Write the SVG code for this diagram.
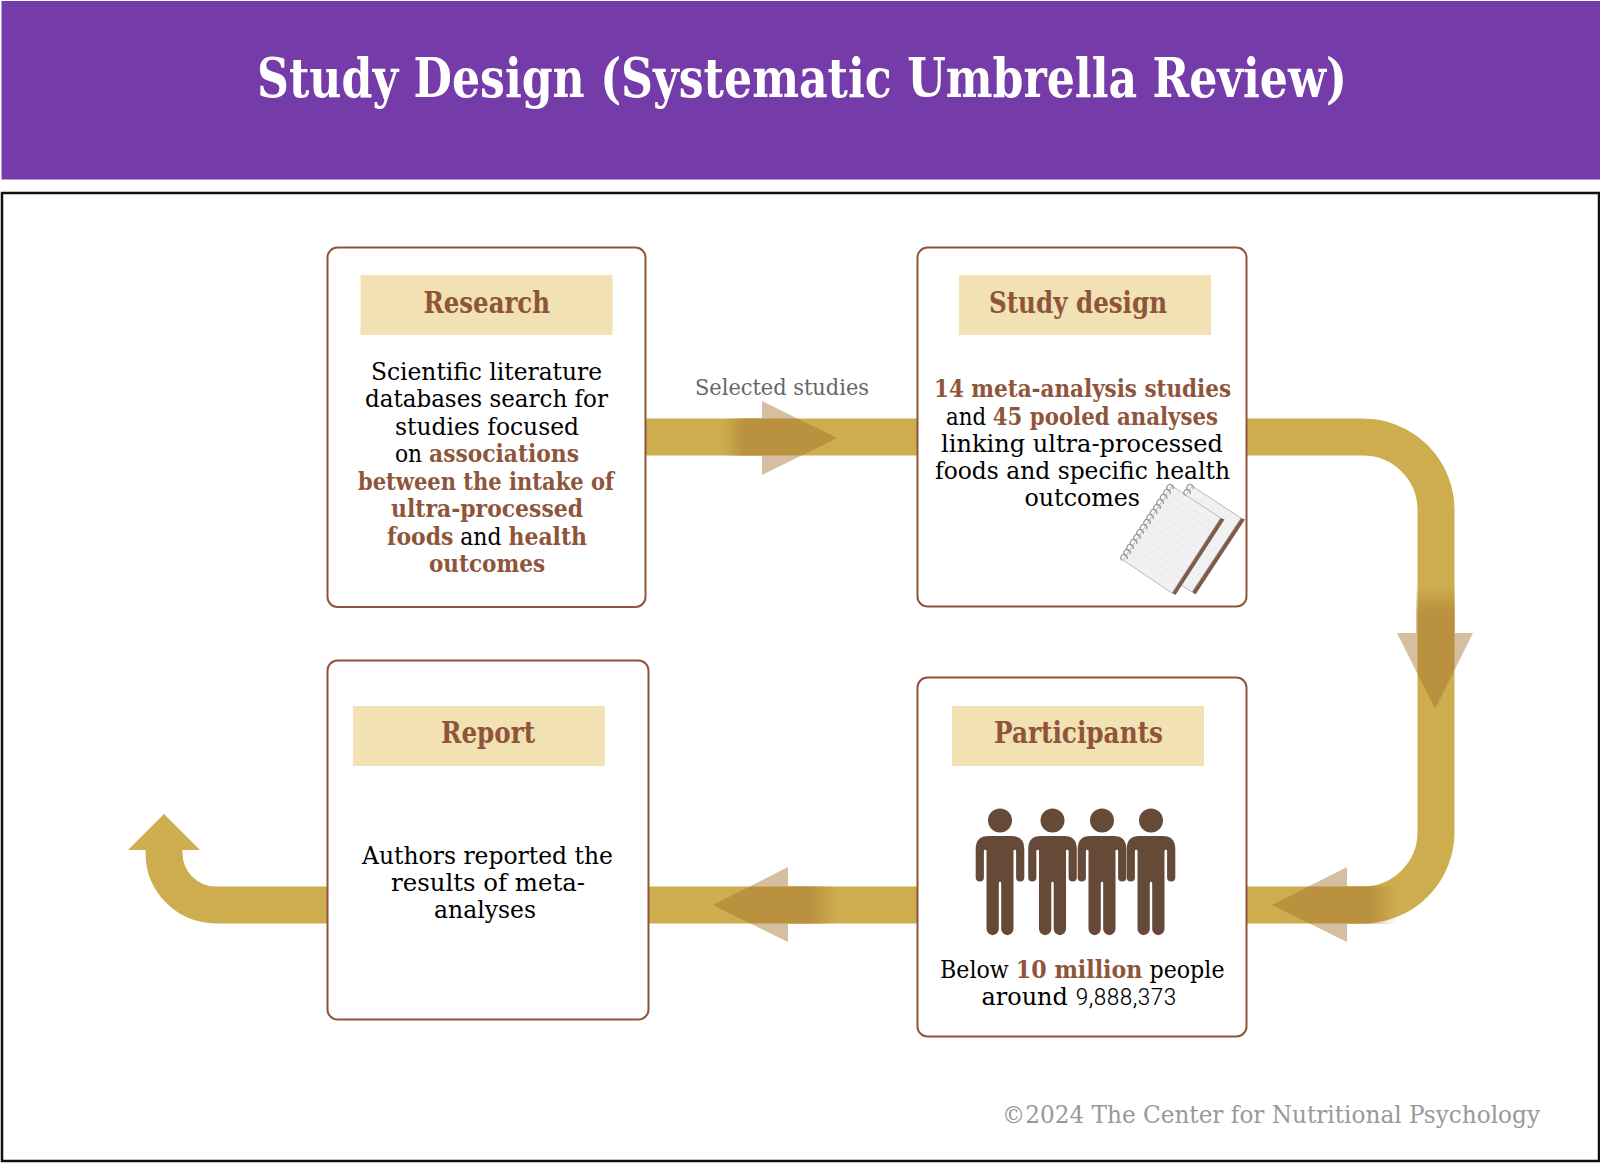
<svg xmlns="http://www.w3.org/2000/svg" width="1600" height="1163" viewBox="0 0 1600 1163">
<style>
text{font-family:"DejaVu Serif Condensed","DejaVu Serif",serif;font-stretch:condensed}
.t{font-size:24.5px;fill:#000}
.b{font-weight:bold;fill:#8f553b}
.h{font-size:30px;font-weight:bold;fill:#8f553b}
.box{fill:#fff;stroke:#8f553b;stroke-width:2}
.lab{fill:#f1e1b3}
.band{fill:none;stroke:#cdad4e;stroke-width:37}
.head{fill:#a46f2c;fill-opacity:.45}
.p{fill:#664a38}
.rule{stroke:#dedee4;stroke-width:.5}
.edge{fill:#7d5c4b}
.page{fill:#f1f1f4;stroke:#a89a94;stroke-width:.7}
.coil{fill:none;stroke:#999;stroke-width:1.3}
</style>
<defs>
<linearGradient id="gr" x1="0" x2="1" y1="0" y2="0"><stop offset="0" stop-color="#a46f2c" stop-opacity="0"/><stop offset=".55" stop-color="#a46f2c" stop-opacity=".45"/></linearGradient>
<linearGradient id="gl" x1="1" x2="0" y1="0" y2="0"><stop offset="0" stop-color="#a46f2c" stop-opacity="0"/><stop offset=".55" stop-color="#a46f2c" stop-opacity=".45"/></linearGradient>
<linearGradient id="gd" x1="0" x2="0" y1="0" y2="1"><stop offset="0" stop-color="#a46f2c" stop-opacity="0"/><stop offset=".55" stop-color="#a46f2c" stop-opacity=".45"/></linearGradient>
<path id="man" d="M-11.5 836H11.500Q24.300 836 24.300 849V877.500a4.100 4.100 0 0 1-8.200 0V851a1.300 1.300 0 0 0-2.600 0V929a6.150 6.150 0 0 1-12.300 0V883a1.200 1.200 0 0 0-2.400 0V929a6.150 6.150 0 0 1-12.300 0V851a1.300 1.300 0 0 0-2.600 0V877.500a4.100 4.100 0 0 1-8.200 0V849Q-24.300 836-11.500 836Z"/>
<g id="coils"><path class="coil" d="M0 0a3.200 3.200 0 1 0-4.500 1.500"/></g>
</defs>
<rect width="1600" height="1163" fill="#fff"/>
<g id="header">
<rect x="1.500" y="1" width="1598.500" height="178.500" fill="#743ba9"/>
<text x="257" y="97" font-size="54" font-weight="bold" fill="#fff" textLength="1090" lengthAdjust="spacingAndGlyphs">Study Design (Systematic Umbrella Review)</text>
</g>
<rect id="frame" x="2" y="193" width="1597" height="968" fill="none" stroke="#111" stroke-width="2.500"/>
<g id="connectors">
<path class="band" d="M646 437H917"/>
<path class="band" d="M1246 437H1363A73 73 0 0 1 1436 510V832A73 73 0 0 1 1363 905H1246"/>
<path class="band" d="M917 905H649"/>
<path class="band" d="M327 905H216A52 52 0 0 1 164 853V848"/>
<path d="M128 850L164 814L200 850Z" fill="#cdad4e"/>
<rect x="722" y="418" width="40" height="38" fill="url(#gr)"/>
<path class="head" d="M762 401L837 438L762 475Z"/>
<rect x="1416" y="586" width="39" height="47" fill="url(#gd)"/>
<path class="head" d="M1397 633H1473L1435 709Z"/>
<rect x="1347" y="886" width="50" height="38" fill="url(#gl)"/>
<path class="head" d="M1347 867L1272 905L1347 942Z"/>
<rect x="788" y="886" width="49" height="38" fill="url(#gl)"/>
<path class="head" d="M788 867L713 905L788 942Z"/>
<text x="695" y="395" font-size="23" fill="#666" textLength="174" lengthAdjust="spacingAndGlyphs">Selected studies</text>
</g>
<g id="node-research">
<rect class="box" x="327.500" y="247.500" width="318" height="359.500" rx="10"/>
<rect class="lab" x="360.500" y="275" width="252" height="60"/>
<text class="h" x="423.500" y="313" textLength="126.500" lengthAdjust="spacingAndGlyphs">Research</text>
<text class="t" x="371" y="380" textLength="231" lengthAdjust="spacingAndGlyphs">Scientific literature</text>
<text class="t" x="365" y="407" textLength="243" lengthAdjust="spacingAndGlyphs">databases search for</text>
<text class="t" x="395" y="434.500" textLength="184" lengthAdjust="spacingAndGlyphs">studies focused</text>
<text class="t" x="395" y="462" textLength="184" lengthAdjust="spacingAndGlyphs">on <tspan class="b">associations</tspan></text>
<text class="t b" x="358" y="489.500" textLength="256" lengthAdjust="spacingAndGlyphs">between the intake of</text>
<text class="t b" x="391" y="517" textLength="192" lengthAdjust="spacingAndGlyphs">ultra-processed</text>
<text class="t" x="387" y="544.500" textLength="200" lengthAdjust="spacingAndGlyphs"><tspan class="b">foods</tspan> and <tspan class="b">health</tspan></text>
<text class="t b" x="429" y="572" textLength="116" lengthAdjust="spacingAndGlyphs">outcomes</text>
</g>
<g id="node-study-design">
<rect class="box" x="917.500" y="247.500" width="329" height="359" rx="10"/>
<rect class="lab" x="959" y="275" width="252" height="60"/>
<text class="h" x="989" y="313" textLength="178" lengthAdjust="spacingAndGlyphs">Study design</text>
<text class="t b" x="934" y="397" textLength="297" lengthAdjust="spacingAndGlyphs">14 meta-analysis studies</text>
<text class="t" x="946" y="424.500" textLength="272" lengthAdjust="spacingAndGlyphs">and <tspan class="b">45 pooled analyses</tspan></text>
<text class="t" x="941" y="451.500" textLength="282" lengthAdjust="spacingAndGlyphs">linking ultra-processed</text>
<text class="t" x="935" y="479" textLength="295" lengthAdjust="spacingAndGlyphs">foods and specific health</text>
<text class="t" x="1024.500" y="506" textLength="115.500" lengthAdjust="spacingAndGlyphs">outcomes</text>
<g id="notebooks">
<path class="edge" d="M1245 519.500L1195.500 594.500L1192 592L1241 518Z"/>
<path class="page" d="M1192 486L1241 518L1192 592L1143 560Z"/>
<path class="edge" d="M1224.500 519.500L1175.500 595L1172 593L1220.500 518Z"/>
<path class="page" d="M1172 486L1220.500 518L1172 593L1123 560Z"/>
<g class="rule">
<path d="M1167 493L1216 525M1163 499L1212 531M1159 505L1208 537M1155 511L1204 543M1151 517L1200 549M1147 523L1196 555M1143 529L1192 561M1139 535L1188 567M1135 541L1184 573M1131 547L1180 579M1127 553L1176 585"/>
</g>
<g id="spiral" class="coil">
<use href="#coils" x="1173" y="489"/><use href="#coils" x="1170" y="494"/><use href="#coils" x="1166.500" y="499"/><use href="#coils" x="1163" y="504"/><use href="#coils" x="1160" y="509"/><use href="#coils" x="1156.500" y="514"/><use href="#coils" x="1153" y="519"/><use href="#coils" x="1150" y="524"/><use href="#coils" x="1146.500" y="529"/><use href="#coils" x="1143" y="534"/><use href="#coils" x="1140" y="539"/><use href="#coils" x="1136.500" y="544"/><use href="#coils" x="1133" y="549"/><use href="#coils" x="1130" y="554"/><use href="#coils" x="1127" y="559"/><use href="#coils" x="1193" y="489"/><use href="#coils" x="1190" y="494"/>
</g>
</g>
</g>
<g id="node-participants">
<rect class="box" x="917.500" y="677.500" width="329" height="359" rx="10"/>
<rect class="lab" x="952" y="706" width="252" height="60"/>
<text class="h" x="994" y="743" textLength="169" lengthAdjust="spacingAndGlyphs">Participants</text>
<g id="people" class="p">
<circle cx="1000" cy="820.500" r="12"/><use href="#man" x="1000"/>
<circle cx="1052.500" cy="820.500" r="12"/><use href="#man" x="1052.500"/>
<circle cx="1102" cy="820.500" r="12"/><use href="#man" x="1102"/>
<circle cx="1151" cy="820.500" r="12"/><use href="#man" x="1151"/>
</g>
<text class="t" x="940" y="977.500" textLength="284.500" lengthAdjust="spacingAndGlyphs">Below <tspan class="b">10 million</tspan> people</text>
<text class="t" x="981.500" y="1004.500" textLength="195" lengthAdjust="spacingAndGlyphs">around <tspan style="font-family:Roboto,sans-serif;font-weight:300">9,888,373</tspan></text>
</g>
<g id="node-report">
<rect class="box" x="327.500" y="660.500" width="321" height="359" rx="10"/>
<rect class="lab" x="353" y="706" width="252" height="60"/>
<text class="h" x="441" y="743" textLength="94" lengthAdjust="spacingAndGlyphs">Report</text>
<text class="t" x="362" y="863.500" textLength="251" lengthAdjust="spacingAndGlyphs">Authors reported the</text>
<text class="t" x="391" y="891" textLength="194" lengthAdjust="spacingAndGlyphs">results of meta-</text>
<text class="t" x="434" y="918" textLength="102" lengthAdjust="spacingAndGlyphs">analyses</text>
</g>
<text id="copyright" x="1002" y="1123" font-size="25" fill="#999" textLength="538" lengthAdjust="spacingAndGlyphs">©2024 The Center for Nutritional Psychology</text>
</svg>
